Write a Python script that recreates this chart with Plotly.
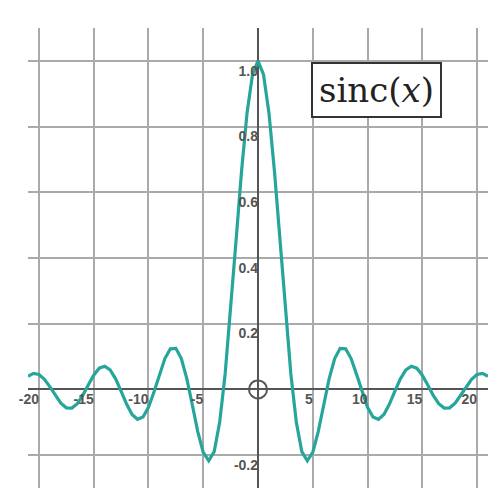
import plotly.graph_objects as go

x_half = [0, 0.5, 1, 1.5, 2, 2.5, 3, 3.5, 4, 4.5, 5, 5.5, 6, 6.5, 7, 7.5, 8, 8.5, 9, 9.5, 10,
          10.5, 11, 11.5, 12, 12.5, 13, 13.5, 14, 14.5, 15, 15.5, 16, 16.5, 17, 17.5, 18, 18.5,
          19, 19.5, 20, 20.5, 21]
y_half = [1.0, 0.9589, 0.8415, 0.6650, 0.4546, 0.2394, 0.0470, -0.1002, -0.1892, -0.2172,
          -0.1918, -0.1283, -0.0466, 0.0331, 0.0939, 0.1250, 0.1237, 0.0939, 0.0458, -0.0079,
          -0.0544, -0.0840, -0.0909, -0.0762, -0.0447, -0.0053, 0.0323, 0.0596, 0.0707, 0.0646,
          0.0434, 0.0135, -0.0180, -0.0433, -0.0566, -0.0560, -0.0417, -0.0178, 0.0079, 0.0310,
          0.0456, 0.0487, 0.0399]
x_vals = [-v for v in reversed(x_half[1:])] + x_half
y_vals = list(reversed(y_half[1:])) + y_half

xticks = [-20, -15, -10, -5, 0, 5, 10, 15, 20]
xtick_labels = ["-20", "-15", "-10", "-5", "", "5", "10", "15", "20"]
yticks = [-0.2, 0, 0.2, 0.4, 0.6, 0.8, 1.0]
ytick_labels = ["-0.2", "", "0.2", "0.4", "0.6", "0.8", "1.0"]

fig = go.Figure()
fig.add_trace(go.Scatter(x=x_vals, y=y_vals, mode="lines",
                         line=dict(color="#26a69a", width=3.2), hoverinfo="skip"))
fig.add_trace(go.Scatter(x=[0], y=[0], mode="markers",
                         marker=dict(size=18, color="rgba(0,0,0,0)",
                                     line=dict(color="#555", width=2))))

tickfont = dict(family="Liberation Sans, Arial", size=14, color="#555")
fig.update_layout(
    width=500, height=500, showlegend=False,
    margin=dict(l=20, r=20, t=20, b=20),
    plot_bgcolor="white", paper_bgcolor="white",
    xaxis=dict(range=[-21, 21], tickvals=xticks,
               ticktext=["<b>%s</b>" % t if t else "" for t in xtick_labels],
               showgrid=True, gridcolor="#aaa", gridwidth=2, automargin=False,
               zeroline=True, zerolinecolor="#555", zerolinewidth=2,
               anchor="free", position=0.215, ticklabelposition="outside left",
               tickfont=tickfont, ticks=""),
    yaxis=dict(range=[-0.3, 1.1], tickvals=yticks,
               ticktext=["<b>%s</b>" % t if t else "" for t in ytick_labels],
               showgrid=True, gridcolor="#aaa", gridwidth=2, automargin=False,
               zeroline=True, zerolinecolor="#555", zerolinewidth=2,
               anchor="free", position=0.5, ticklabelposition="outside bottom",
               tickfont=tickfont, ticks=""),
    annotations=[dict(x=0.9, y=0.925, xref="paper", yref="paper",
                      text="sinc(<i>x</i>)", showarrow=False,
                      font=dict(family="DejaVu Serif, serif", size=34, color="#222"),
                      bgcolor="white", bordercolor="#333", borderwidth=2, borderpad=6)],
)
fig.write_html("out.html")
